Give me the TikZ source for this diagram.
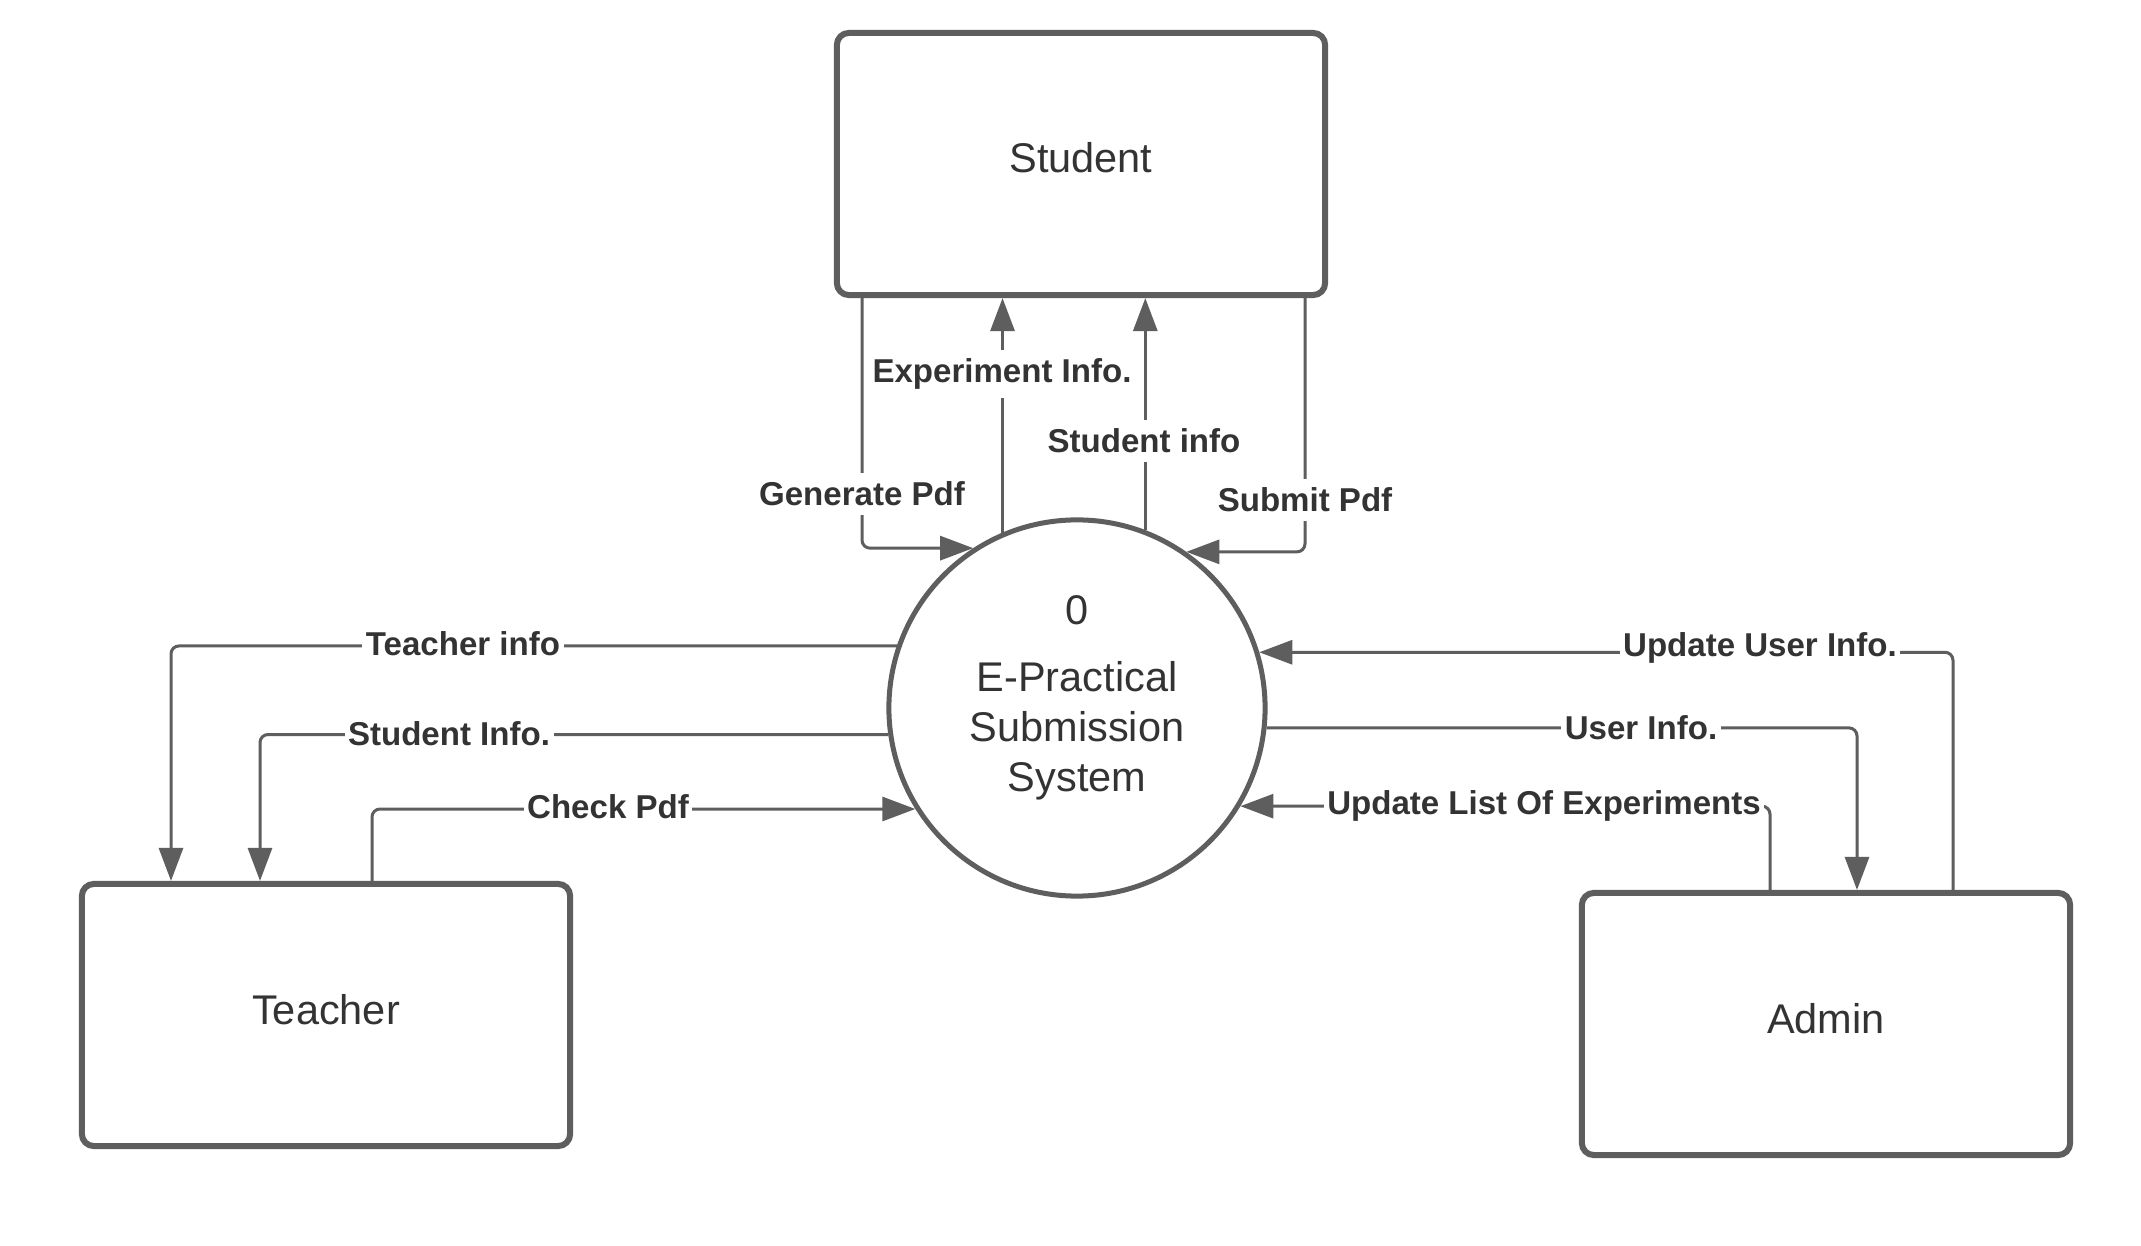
\documentclass[tikz,border=0pt]{standalone}
\usepackage{fontspec}
\setmainfont{Liberation Sans}
\usetikzlibrary{arrows.meta}
\definecolor{linegray}{HTML}{5E5E5E}
\definecolor{textgray}{HTML}{333333}
\begin{document}
\begin{tikzpicture}[x=0.01cm,y=-0.01cm,
  entity/.style={draw=linegray, line width=0.06cm, rounded corners=0.12cm,
    minimum width=4.88cm, minimum height=2.62cm, text=textgray,
    font=\fontsize{11.8}{14}\selectfont, text height=0.30cm, text depth=0.12cm},
  process/.style={circle, draw=linegray, line width=0.05cm, minimum size=3.76cm, inner sep=0pt},
  proctext/.style={text=textgray, font=\fontsize{11.8}{14}\selectfont, anchor=base, inner sep=0pt},
  flow/.style={draw=linegray, line width=0.03cm, rounded corners=0.08cm,
    -{Triangle[length=0.33cm,width=0.24cm]}},
  flowlabel/.style={fill=white, text=textgray, font=\fontsize{9.4}{11}\selectfont\bfseries,
    inner xsep=1pt, inner ysep=2.5pt}]
\fill[white] (0,0) rectangle (2141,1246);
\useasboundingbox (0,0) rectangle (2141,1246);

% entities and process
\node[entity] (student) at (1081,164) {Student};
\node[entity] (teacher) at (326,1015) {Teacher};
\node[entity] (admin) at (1826,1024) {Admin};
\node[process] (circ) at (1077,708) {};
\node[proctext] (pnum) at (1077,625) {0};
\node[proctext] (pl1) at (1077,692) {E-Practical};
\node[proctext] (pl2) at (1077,742) {Submission};
\node[proctext] (pl3) at (1077,792) {System};

% x positions of vertical runs
\coordinate (gpx) at (862,0);
\coordinate (spx) at (1305,0);
\coordinate (tix) at (171,0);
\coordinate (six) at (260,0);
\coordinate (cpx) at (372,0);
\coordinate (uux) at (1953,0);
\coordinate (uix) at (1857,0);
\coordinate (ulx) at (1770,0);

% student flows
\draw[flow] (student.south -| gpx) |- (circ.123.3);
\draw[flow] (circ.113.4) -- (circ.113.4 |- student.south);
\draw[flow] (circ.69.2) -- (circ.69.2 |- student.south);
\draw[flow] (student.south -| spx) |- (circ.55.6);

% teacher flows
\draw[flow] (circ.161.2) -| (tix |- teacher.north);
\draw[flow] (circ.188.5) -| (six |- teacher.north);
\draw[flow] (cpx |- teacher.north) |- (circ.212.7);

% admin flows
\draw[flow] (uux |- admin.north) |- (circ.17.9);
\draw[flow] (circ.-6.4) -| (uix |- admin.north);
\draw[flow] (ulx |- admin.north) |- (circ.-31.6);

% labels
\node[flowlabel] (lexp) at (1002,374) {Experiment Info.};
\node[flowlabel] (lstu) at (1144,441) {Student info};
\node[flowlabel] (lgen) at (862,494) {Generate Pdf};
\node[flowlabel] (lsub) at (1305,500) {Submit Pdf};
\node[flowlabel] (ltea) at (463,644) {Teacher info};
\node[flowlabel] (lsti) at (449,734) {Student Info.};
\node[flowlabel] (lchk) at (608,807) {Check Pdf};
\node[flowlabel] (luui) at (1760,648) {Update User Info.};
\node[flowlabel] (lui) at (1641,728) {User Info.};
\node[flowlabel] (lupl) at (1544,806) {Update List Of Experiments};
\end{tikzpicture}
\end{document}
